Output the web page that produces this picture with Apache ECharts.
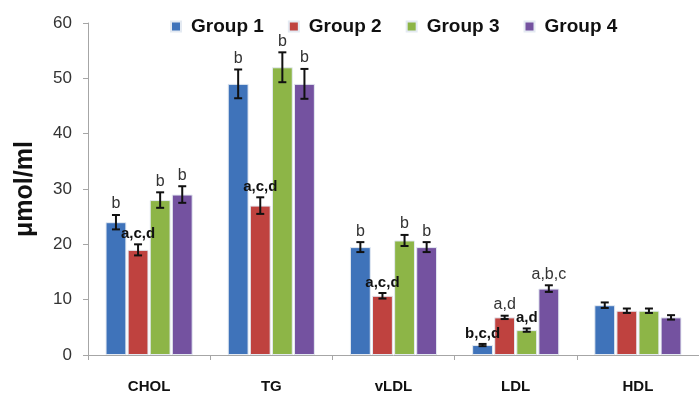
<!DOCTYPE html>
<html>
<head>
<meta charset="utf-8">
<script src="https://cdn.jsdelivr.net/npm/echarts@6/dist/echarts.min.js"></script>
<style>
html,body{margin:0;padding:0;background:#fff;}
#chart{width:699px;height:395px;}
</style>
</head>
<body>
<div id="chart"></div>
<script>
// ---- data ----
const categories = ['CHOL', 'TG', 'vLDL', 'LDL', 'HDL'];
const groupNames = ['Group 1', 'Group 2', 'Group 3', 'Group 4'];
const group1 = [24, 49, 19.5, 1.8, 9];
const group2 = [19, 27, 10.7, 6.8, 8];
const group3 = [28, 52, 20.7, 4.5, 8];
const group4 = [29, 49, 19.5, 12, 6.8];
const err1 = [1.3, 2.6, 0.9, 0.2, 0.5];
const err2 = [1.0, 1.5, 0.5, 0.3, 0.4];
const err3 = [1.4, 2.7, 1.0, 0.3, 0.4];
const err4 = [1.5, 2.7, 0.9, 0.6, 0.4];
const letters1 = ['b', 'b', 'b', 'b,c,d', ''];
const letters2 = ['a,c,d', 'a,c,d', 'a,c,d', 'a,d', ''];
const letters3 = ['b', 'b', 'b', 'a,d', ''];
const letters4 = ['b', 'b', 'b', 'a,b,c', ''];
const yTicks = [0, 10, 20, 30, 40, 50, 60];

// ---- styling ----
const colors = ['#3F73BA', '#BF423F', '#8DB547', '#7452A0'];
const boldLabels = [[false,false,false,true,false],[true,true,true,false,false],[false,false,false,true,false],[false,false,false,false,false]];
const FONT = '"Liberation Sans", Arial, sans-serif';
const CAT_GAP = 0.287, BAR_GAP = 0.06, NBARS = 4;

const values = [group1, group2, group3, group4];
const errs = [err1, err2, err3, err4];
const letters = [letters1, letters2, letters3, letters4];

function makeErrorRender(gi) {
  return function (params, api) {
    const ci = api.value(0);
    const v = api.value(1);
    const e = api.value(2);
    const band = api.size([1, 0])[0];
    const usable = band * (1 - CAT_GAP);
    const bw = usable / (NBARS + (NBARS - 1) * BAR_GAP);
    const center = api.coord([ci, 0])[0];
    const x = center - usable / 2 + gi * bw * (1 + BAR_GAP) + bw / 2;
    const yTop = api.coord([ci, v + e])[1];
    const yBot = api.coord([ci, v - e])[1];
    const cap = 4;
    const lineStyle = { stroke: '#111', lineWidth: 2 };
    const children = [];
    if (e > 0) {
      children.push({ type: 'line', shape: { x1: x, y1: yTop, x2: x, y2: yBot }, style: lineStyle });
      children.push({ type: 'line', shape: { x1: x - cap, y1: yTop, x2: x + cap, y2: yTop }, style: lineStyle });
      children.push({ type: 'line', shape: { x1: x - cap, y1: yBot, x2: x + cap, y2: yBot }, style: lineStyle });
    }
    const txt = letters[gi][ci];
    if (txt) {
      const bold = boldLabels[gi][ci];
      children.push({
        type: 'text',
        x: x, y: yTop - 3,
        style: {
          text: txt,
          fill: bold ? '#111' : '#333',
          font: (bold ? 'bold 15px ' : '16px ') + FONT,
          align: 'center', verticalAlign: 'bottom',
          textAlign: 'center', textVerticalAlign: 'bottom'
        }
      });
    }
    return { type: 'group', children: children };
  };
}

const series = [];
for (let g = 0; g < 4; g++) {
  series.push({
    name: groupNames[g],
    type: 'bar',
    data: values[g],
    barCategoryGap: (CAT_GAP * 100) + '%',
    barGap: (BAR_GAP * 100) + '%',
    itemStyle: { color: colors[g], borderColor: '#e4eaf2', borderWidth: 1 },
    silent: true
  });
}
for (let g = 0; g < 4; g++) {
  series.push({
    name: 'err' + g,
    type: 'custom',
    renderItem: makeErrorRender(g),
    data: categories.map((c, i) => [i, values[g][i], errs[g][i]]),
    z: 10,
    silent: true
  });
}

const chart = echarts.init(document.getElementById('chart'), null, { renderer: 'canvas' });
chart.setOption({
  animation: false,
  backgroundColor: '#fff',
  legend: {
    data: groupNames,
    left: 165,
    top: 12,
    itemWidth: 10,
    itemHeight: 10,
    itemGap: 24,
    icon: 'rect',
    textStyle: { fontFamily: FONT, fontWeight: 'bold', fontSize: 19, color: '#111', padding: [0, 0, 0, 5] }
  },
  grid: { left: 88, right: -6, top: 23, bottom: 40, containLabel: false },
  xAxis: {
    type: 'category',
    data: categories,
    axisLine: { lineStyle: { color: '#a6a6a6', width: 1 } },
    axisTick: { show: true, length: 5, lineStyle: { color: '#a6a6a6' } },
    axisLabel: { margin: 24, fontFamily: FONT, fontWeight: 'bold', fontSize: 15, color: '#111' },
    splitLine: { show: false }
  },
  yAxis: {
    type: 'value',
    min: 0, max: 60, interval: 10,
    name: 'μmol/ml',
    nameLocation: 'middle',
    nameGap: 50,
    nameRotate: 90,
    nameTextStyle: { fontFamily: FONT, fontWeight: 'bold', fontSize: 25, color: '#111' },
    axisLine: { show: true, lineStyle: { color: '#a6a6a6', width: 1 } },
    axisTick: { show: true, length: 5, lineStyle: { color: '#a6a6a6' } },
    axisLabel: { margin: 16, fontFamily: FONT, fontSize: 17, color: '#333',
      formatter: v => yTicks.indexOf(v) >= 0 ? String(v) : '' },
    splitLine: { show: false }
  },
  series: series
});
</script>
</body>
</html>
